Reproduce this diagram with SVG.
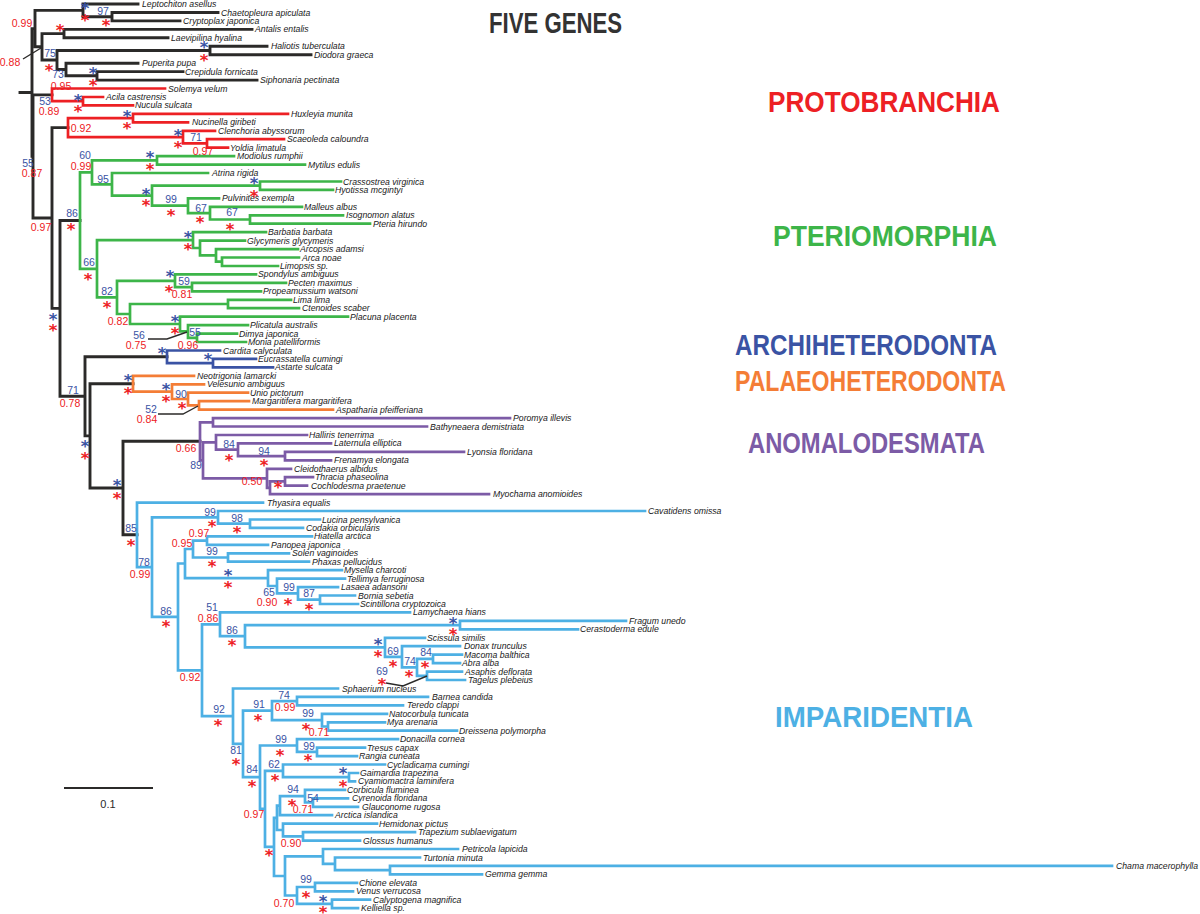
<svg xmlns="http://www.w3.org/2000/svg" xmlns:xlink="http://www.w3.org/1999/xlink" width="1200" height="914" viewBox="0 0 1200 914">
<style>
.br{fill:none;stroke-width:2.7;stroke-linecap:square;stroke-linejoin:miter}
.k{stroke:#2b2a29;stroke-width:2.9}
.r{stroke:#ED2024}
.g{stroke:#3DB549}
.b{stroke:#3A53A4}
.o{stroke:#F47D36}
.p{stroke:#7C5BA6}
.c{stroke:#4DB0E4}
.ptr{fill:none;stroke:#2b2a29;stroke-width:1.4}
.tip text{font-family:"Liberation Sans",Arial,sans-serif;font-style:italic;font-size:8.7px;fill:#1a1a1a}
.nb{font-family:"Liberation Sans",Arial,sans-serif;font-size:10.5px;fill:#3A53A4;text-anchor:middle}
.nr{font-family:"Liberation Sans",Arial,sans-serif;font-size:10.5px;fill:#ED2024;text-anchor:middle}
.ab{fill:#3A53A4}
.ar{fill:#ED2024}
.ttl{font-family:"Liberation Sans",Arial,sans-serif;font-weight:bold;font-size:29px}
</style>
<defs>
<text id="as" x="0" y="9.2" text-anchor="middle" font-family="DejaVu Sans,sans-serif" font-weight="bold" font-size="16.5">*</text>
</defs>
<rect width="1200" height="914" fill="#fff"/>

<g id="titles">
<text class="ttl" x="489" y="33" textLength="133" lengthAdjust="spacingAndGlyphs" fill="#333">FIVE GENES</text>
<text class="ttl" x="768" y="112" textLength="232" lengthAdjust="spacingAndGlyphs" fill="#ED2024">PROTOBRANCHIA</text>
<text class="ttl" x="773" y="246" textLength="224" lengthAdjust="spacingAndGlyphs" fill="#3DB549">PTERIOMORPHIA</text>
<text class="ttl" x="735" y="355" textLength="262" lengthAdjust="spacingAndGlyphs" fill="#3A53A4">ARCHIHETERODONTA</text>
<text class="ttl" x="735" y="391" textLength="271" lengthAdjust="spacingAndGlyphs" fill="#F47D36">PALAEOHETERODONTA</text>
<text class="ttl" x="748" y="453" textLength="237" lengthAdjust="spacingAndGlyphs" fill="#7C5BA6">ANOMALODESMATA</text>
<text class="ttl" x="775" y="727" textLength="198" lengthAdjust="spacingAndGlyphs" fill="#4DB0E4">IMPARIDENTIA</text>
</g>

<g id="connectors">
<path class="br k" d="M112,12.5V20.9M112,12.5H218M112,20.9H180M83,4V16.7M83,4H138M83,16.7H112M64,29.4V37.8M64,29.4H252M64,37.8H168M210,46.3V54.7M210,46.3H267M210,54.7H311M97,71.6V80.1M97,71.6H183M97,80.1H257M66,63.2V75.8M66,63.2H138M66,75.8H97M57,50.5V69.5M57,50.5H210M57,69.5H66M42,33.6V60M42,33.6H64M42,60H57M35,10.4V46.8M35,10.4H83M35,46.8H42M32,28.6V156.4M32,28.6H35M32,156.4H33M20,92.5H32M33,94.9V218M33,94.9H52M33,218H52M52,127.6V308.4M52,127.6H68M52,308.4H60M60,220.5V396.3M60,220.5H80M60,396.3H85M85,356.8V435.9M85,356.8H167M85,435.9H90M90,383.7V488M90,383.7H133M90,488H123M123,441.3V534.8M123,441.3H200M123,534.8H137"/>
<path class="br r" d="M52,88.5V101.2M52,88.5H165M52,101.2H83M83,97V105.4M83,97H103M83,105.4H133M68,118.1V137.1M68,118.1H133M68,137.1H183M133,113.9V122.3M133,113.9H288M133,122.3H188M183,130.8V143.4M183,130.8H215M183,143.4H207M207,139.2V147.7M207,139.2H284M207,147.7H228"/>
<path class="br g" d="M80,172.3V268.8M80,172.3H92M80,268.8H97M92,160.3V184.4M92,160.3H157M92,184.4H112M157,156.1V164.6M157,156.1H234M157,164.6H305M112,173V195.7M112,173H208M112,195.7H152M152,185.7V205.7M152,185.7H260M152,205.7H188M260,181.5V189.9M260,181.5H341M260,189.9H333M188,198.4V213.1M188,198.4H219M188,213.1H210M210,206.8V219.5M210,206.8H302M210,219.5H250M250,215.3V223.7M250,215.3H343M250,223.7H370M97,240.1V297.4M97,240.1H193M97,297.4H117M193,232.2V248M193,232.2H266M193,248H200M200,240.6V255.4M200,240.6H245M200,255.4H216M216,249.1V261.7M216,249.1H298M216,261.7H222M222,257.5V266M222,257.5H299M222,266H278M117,280.8V314M117,280.8H175M117,314H130M175,274.4V287.1M175,274.4H256M175,287.1H192M192,282.9V291.3M192,282.9H286M192,291.3H261M130,304V324M130,304H228M130,324H180M228,299.8V308.2M228,299.8H291M228,308.2H299M180,316.7V331.4M180,316.7H348M180,331.4H188M188,325.1V337.8M188,325.1H248M188,337.8H197M197,333.6V342M197,333.6H237M197,342H246"/>
<path class="br b" d="M167,350.5V363.1M167,350.5H220M167,363.1H213M213,358.9V367.4M213,358.9H256M213,367.4H273"/>
<path class="br o" d="M133,375.8V391.6M133,375.8H194M133,391.6H172M172,384.3V399M172,384.3H204M172,399H188M188,392.7V405.4M188,392.7H248M188,405.4H199M199,401.2V409.6M199,401.2H249M199,409.6H333"/>
<path class="br p" d="M200,422.3V460.3M200,422.3H213M200,460.3H203M213,418.1V426.5M213,418.1H510M213,426.5H427M203,442.3V478.3M203,442.3H216M203,478.3H267M216,435V449.7M216,435H307M216,449.7H238M238,443.4V456.1M238,443.4H331M238,456.1H285M285,451.9V460.3M285,451.9H464M285,460.3H331M267,468.8V487.8M267,468.8H291M267,487.8H270M270,481.4V494.1M270,481.4H285M270,494.1H489M285,477.2V485.7M285,477.2H313M285,485.7H307"/>
<path class="br c" d="M137,502.6V567.1M137,502.6H263M137,567.1H152M152,517.3V616.9M152,517.3H218M152,616.9H178M218,511V523.7M218,511H645M218,523.7H250M250,519.5V527.9M250,519.5H320M250,527.9H303M178,563.5V670.3M178,563.5H185M178,670.3H202M185,549V578.1M185,549H193M185,578.1H268M193,540.6V557.5M193,540.6H207M193,557.5H228M207,536.4V544.8M207,536.4H312M207,544.8H268M228,553.3V561.7M228,553.3H289M228,561.7H309M268,570.2V586M268,570.2H342M268,586H277M277,578.6V593.4M277,578.6H345M277,593.4H298M298,587.1V599.7M298,587.1H338M298,599.7H320M320,595.5V604M320,595.5H355M320,604H358M202,624.3V716.2M202,624.3H220M202,716.2H233M220,612.4V636.2M220,612.4H410M220,636.2H245M245,625.1V647.3M245,625.1H460M245,647.3H385M460,620.9V629.3M460,620.9H626M460,629.3H578M385,637.8V656.8M385,637.8H425M385,656.8H402M402,646.2V667.3M402,646.2H460M402,667.3H417M417,658.9V675.8M417,658.9H433M417,675.8H427M433,654.7V663.1M433,654.7H462M433,663.1H460M427,671.6V680M427,671.6H462M427,680H465M233,688.5V743.9M233,688.5H338M233,743.9H243M243,710.6V777.2M243,710.6H272M243,777.2H260M272,701.1V720.1M272,701.1H297M272,720.1H322M297,696.9V705.4M297,696.9H428M297,705.4H403M322,713.8V726.5M322,713.8H387M322,726.5H328M328,722.3V730.7M328,722.3H385M328,730.7H457M260,745.5V808.9M260,745.5H297M260,808.9H265M297,739.2V751.8M297,739.2H398M297,751.8H317M317,747.6V756.1M317,747.6H365M317,756.1H357M265,770.9V846.9M265,770.9H283M265,846.9H274M283,764.5V777.2M283,764.5H385M283,777.2H349M349,773V781.4M349,773H358M349,781.4H355M274,817.9V876M274,817.9H277M274,876H285M277,805.7V830M277,805.7H280M277,830H283M280,796.2V815.2M280,796.2H305M280,815.2H332M305,789.9V802.5M305,789.9H345M305,802.5H313M313,798.3V806.8M313,798.3H348M313,806.8H358M283,823.7V836.3M283,823.7H377M283,836.3H303M303,832.1V840.6M303,832.1H415M303,840.6H360M285,856.4V895.5M285,856.4H323M285,895.5H297M323,849V863.8M323,849H458M323,863.8H335M335,857.5V870.1M335,857.5H420M335,870.1H390M390,865.9V874.4M390,865.9H1112M390,874.4H482M297,887V903.9M297,887H315M297,903.9H332M315,882.8V891.3M315,882.8H357M315,891.3H353M332,899.7V908.2M332,899.7H370M332,908.2H358"/>
<path class="ptr" d="M23,59L41,48M148,339H167L187,332M158,414H183L198,406M386,683L403,686L427,676"/>
<path d="M64,788H153" stroke="#2b2a29" stroke-width="2"/>
</g>

<g id="scale"><text x="108" y="808" text-anchor="middle" font-family="Liberation Sans,Arial,sans-serif" font-size="11" fill="#2b2a29">0.1</text></g>

<g class="tip" id="outgroups">
<text id="t1" x="142" y="7">Leptochiton asellus</text>
<text id="t2" x="221" y="15.5">Chaetopleura apiculata</text>
<text id="t3" x="183" y="23.9">Cryptoplax japonica</text>
<text id="t4" x="255" y="32.4">Antalis entalis</text>
<text id="t5" x="171" y="40.8">Laevipilina hyalina</text>
<text id="t6" x="271" y="49.3">Haliotis tuberculata</text>
<text id="t7" x="314" y="57.7">Diodora graeca</text>
<text id="t8" x="142" y="66.2">Puperita pupa</text>
<text id="t9" x="185" y="74.6">Crepidula fornicata</text>
<text id="t10" x="260" y="83.1">Siphonaria pectinata</text>
</g>
<g class="tip" id="protobranchia">
<text id="t11" x="168" y="91.5">Solemya velum</text>
<text id="t12" x="106" y="100">Acila castrensis</text>
<text id="t13" x="135" y="108.4">Nucula sulcata</text>
<text id="t14" x="291" y="116.9">Huxleyia munita</text>
<text id="t15" x="192" y="125.3">Nucinella giribeti</text>
<text id="t16" x="218" y="133.8">Clenchoria abyssorum</text>
<text id="t17" x="287" y="142.2">Scaeoleda caloundra</text>
<text id="t18" x="230" y="150.7">Yoldia limatula</text>
</g>
<g class="tip" id="pteriomorphia">
<text id="t19" x="237" y="159.1">Modiolus rumphii</text>
<text id="t20" x="308" y="167.6">Mytilus edulis</text>
<text id="t21" x="212" y="176">Atrina rigida</text>
<text id="t22" x="343" y="184.5">Crassostrea virginica</text>
<text id="t23" x="335" y="192.9">Hyotissa mcgintyi</text>
<text id="t24" x="222" y="201.4">Pulvinites exempla</text>
<text id="t25" x="304" y="209.8">Malleus albus</text>
<text id="t26" x="346" y="218.3">Isognomon alatus</text>
<text id="t27" x="373" y="226.7">Pteria hirundo</text>
<text id="t28" x="268" y="235.2">Barbatia barbata</text>
<text id="t29" x="247" y="243.6">Glycymeris glycymeris</text>
<text id="t30" x="300" y="252.1">Arcopsis adamsi</text>
<text id="t31" x="302" y="260.5">Arca noae</text>
<text id="t32" x="280" y="269">Limopsis sp.</text>
<text id="t33" x="258" y="277.4">Spondylus ambiguus</text>
<text id="t34" x="288" y="285.9">Pecten maximus</text>
<text id="t35" x="263" y="294.3">Propeamussium watsoni</text>
<text id="t36" x="293" y="302.8">Lima lima</text>
<text id="t37" x="302" y="311.2">Ctenoides scaber</text>
<text id="t38" x="350" y="319.7">Placuna placenta</text>
<text id="t39" x="250" y="328.1">Plicatula australis</text>
<text id="t40" x="239" y="336.6">Dimya japonica</text>
<text id="t41" x="248" y="345">Monia patelliformis</text>
</g>
<g class="tip" id="archiheterodonta">
<text id="t42" x="223" y="353.5">Cardita calyculata</text>
<text id="t43" x="258" y="361.9">Eucrassatella cumingi</text>
<text id="t44" x="275" y="370.4">Astarte sulcata</text>
</g>
<g class="tip" id="palaeoheterodonta">
<text id="t45" x="197" y="378.8">Neotrigonia lamarcki</text>
<text id="t46" x="207" y="387.3">Velesunio ambiguus</text>
<text id="t47" x="250" y="395.7">Unio pictorum</text>
<text id="t48" x="252" y="404.2">Margaritifera margaritifera</text>
<text id="t49" x="336" y="412.6">Aspatharia pfeifferiana</text>
</g>
<g class="tip" id="anomalodesmata">
<text id="t50" x="513" y="421.1">Poromya illevis</text>
<text id="t51" x="430" y="429.5">Bathyneaera demistriata</text>
<text id="t52" x="309" y="438">Halliris tenerrima</text>
<text id="t53" x="334" y="446.4">Laternula elliptica</text>
<text id="t54" x="467" y="454.9">Lyonsia floridana</text>
<text id="t55" x="334" y="463.3">Frenamya elongata</text>
<text id="t56" x="294" y="471.8">Cleidothaerus albidus</text>
<text id="t57" x="315" y="480.2">Thracia phaseolina</text>
<text id="t58" x="311" y="488.7">Cochlodesma praetenue</text>
<text id="t59" x="493" y="497.1">Myochama anomioides</text>
</g>
<g class="tip" id="imparidentia">
<text id="t60" x="267" y="505.6">Thyasira equalis</text>
<text id="t61" x="648" y="514">Cavatidens omissa</text>
<text id="t62" x="322" y="522.5">Lucina pensylvanica</text>
<text id="t63" x="306" y="530.9">Codakia orbicularis</text>
<text id="t64" x="314" y="539.4">Hiatella arctica</text>
<text id="t65" x="271" y="547.8">Panopea japonica</text>
<text id="t66" x="292" y="556.3">Solen vaginoides</text>
<text id="t67" x="312" y="564.7">Phaxas pellucidus</text>
<text id="t68" x="344" y="573.2">Mysella charcoti</text>
<text id="t69" x="347" y="581.6">Tellimya ferruginosa</text>
<text id="t70" x="341" y="590.1">Lasaea adansoni</text>
<text id="t71" x="358" y="598.5">Bornia sebetia</text>
<text id="t72" x="360" y="607">Scintillona cryptozoica</text>
<text id="t73" x="413" y="615.4">Lamychaena hians</text>
<text id="t74" x="629" y="623.9">Fragum unedo</text>
<text id="t75" x="580" y="632.3">Cerastoderma edule</text>
<text id="t76" x="427" y="640.8">Scissula similis</text>
<text id="t77" x="464" y="649.2">Donax trunculus</text>
<text id="t78" x="464" y="657.7">Macoma balthica</text>
<text id="t79" x="462" y="666.1">Abra alba</text>
<text id="t80" x="465" y="674.6">Asaphis deflorata</text>
<text id="t81" x="468" y="683">Tagelus plebeius</text>
<text id="t82" x="342" y="691.5">Sphaerium nucleus</text>
<text id="t83" x="432" y="699.9">Barnea candida</text>
<text id="t84" x="407" y="708.4">Teredo clappi</text>
<text id="t85" x="389" y="716.8">Natocorbula tunicata</text>
<text id="t86" x="387" y="725.3">Mya arenaria</text>
<text id="t87" x="459" y="733.7">Dreissena polymorpha</text>
<text id="t88" x="400" y="742.2">Donacilla cornea</text>
<text id="t89" x="367" y="750.6">Tresus capax</text>
<text id="t90" x="359" y="759.1">Rangia cuneata</text>
<text id="t91" x="387" y="767.5">Cycladicama cumingi</text>
<text id="t92" x="360" y="776">Gaimardia trapezina</text>
<text id="t93" x="358" y="784.4">Cyamiomactra laminifera</text>
<text id="t94" x="347" y="792.9">Corbicula fluminea</text>
<text id="t95" x="352" y="801.3">Cyrenoida floridana</text>
<text id="t96" x="362" y="809.8">Glauconome rugosa</text>
<text id="t97" x="335" y="818.2">Arctica islandica</text>
<text id="t98" x="379" y="826.7">Hemidonax pictus</text>
<text id="t99" x="418" y="835.1">Trapezium sublaevigatum</text>
<text id="t100" x="363" y="843.6">Glossus humanus</text>
<text id="t101" x="462" y="852">Petricola lapicida</text>
<text id="t102" x="423" y="860.5">Turtonia minuta</text>
<text id="t103" x="1116" y="868.9">Chama macerophylla</text>
<text id="t104" x="485" y="877.4">Gemma gemma</text>
<text id="t105" x="359" y="885.8">Chione elevata</text>
<text id="t106" x="356" y="894.3">Venus verrucosa</text>
<text id="t107" x="373" y="902.7">Calyptogena magnifica</text>
<text id="t108" x="361" y="911.2">Kelliella sp.</text>
</g>

<g id="support-bootstrap">
<text class="nb" x="103" y="15">97</text><text class="nb" x="50" y="57">75</text><text class="nb" x="58" y="77.5">73</text><text class="nb" x="45" y="105">53</text><text class="nb" x="196" y="141">71</text><text class="nb" x="28" y="167">55</text><text class="nb" x="85" y="159">60</text><text class="nb" x="103" y="183">95</text><text class="nb" x="171" y="203">99</text><text class="nb" x="201" y="212">67</text><text class="nb" x="232" y="216">67</text><text class="nb" x="72" y="217">86</text><text class="nb" x="89" y="266">66</text><text class="nb" x="107" y="295">82</text><text class="nb" x="184" y="285">59</text><text class="nb" x="195" y="336">55</text><text class="nb" x="139" y="339">56</text><text class="nb" x="73" y="394">71</text><text class="nb" x="181" y="398">90</text><text class="nb" x="151" y="413">52</text><text class="nb" x="229" y="448">84</text><text class="nb" x="264" y="455">94</text><text class="nb" x="196" y="469">89</text><text class="nb" x="131" y="532">85</text><text class="nb" x="210" y="516">99</text><text class="nb" x="237" y="522">98</text><text class="nb" x="144" y="566">78</text><text class="nb" x="212" y="555">99</text><text class="nb" x="269" y="596">65</text><text class="nb" x="289" y="591">99</text><text class="nb" x="309" y="597">87</text><text class="nb" x="212" y="611">51</text><text class="nb" x="166" y="615">86</text><text class="nb" x="232" y="634">86</text><text class="nb" x="393" y="655">69</text><text class="nb" x="426" y="656">84</text><text class="nb" x="410" y="665">74</text><text class="nb" x="382" y="675">69</text><text class="nb" x="284" y="699">74</text><text class="nb" x="259" y="708">91</text><text class="nb" x="219" y="713">92</text><text class="nb" x="308" y="717">99</text><text class="nb" x="281" y="743">99</text><text class="nb" x="309" y="750">99</text><text class="nb" x="236" y="754">81</text><text class="nb" x="274" y="768">62</text><text class="nb" x="252" y="773">84</text><text class="nb" x="293" y="793">94</text><text class="nb" x="313" y="802">54</text><text class="nb" x="306" y="883">99</text>
</g>
<g id="support-posterior">
<text class="nr" x="22" y="27">0.99</text><text class="nr" x="10" y="66">0.88</text><text class="nr" x="61" y="89.5">0.95</text><text class="nr" x="49" y="115">0.89</text><text class="nr" x="81" y="132">0.92</text><text class="nr" x="203" y="155">0.97</text><text class="nr" x="32" y="177">0.87</text><text class="nr" x="81" y="170">0.99</text><text class="nr" x="41" y="231">0.97</text><text class="nr" x="182" y="298">0.81</text><text class="nr" x="118" y="325">0.82</text><text class="nr" x="136" y="349">0.75</text><text class="nr" x="188" y="349">0.96</text><text class="nr" x="70" y="407">0.78</text><text class="nr" x="147" y="423">0.84</text><text class="nr" x="186" y="452">0.66</text><text class="nr" x="252" y="485">0.50</text><text class="nr" x="199" y="537">0.97</text><text class="nr" x="182" y="547">0.95</text><text class="nr" x="140" y="578">0.99</text><text class="nr" x="267" y="606">0.90</text><text class="nr" x="208" y="622">0.86</text><text class="nr" x="190" y="681">0.92</text><text class="nr" x="285" y="711">0.99</text><text class="nr" x="319" y="736">0.71</text><text class="nr" x="303" y="813">0.71</text><text class="nr" x="254" y="818">0.97</text><text class="nr" x="291" y="847">0.90</text><text class="nr" x="284" y="907">0.70</text>
</g>
<g id="asterisks-blue" class="ab">
<use xlink:href="#as" x="85" y="5"/><use xlink:href="#as" x="204" y="44"/><use xlink:href="#as" x="93" y="70"/><use xlink:href="#as" x="78" y="97"/><use xlink:href="#as" x="127" y="113"/><use xlink:href="#as" x="178" y="132"/><use xlink:href="#as" x="150" y="154"/><use xlink:href="#as" x="254" y="180"/><use xlink:href="#as" x="146" y="191"/><use xlink:href="#as" x="188" y="234"/><use xlink:href="#as" x="170" y="273"/><use xlink:href="#as" x="175" y="318"/><use xlink:href="#as" x="162" y="350"/><use xlink:href="#as" x="208" y="356"/><use xlink:href="#as" x="128" y="377"/><use xlink:href="#as" x="166" y="386"/><use xlink:href="#as" x="53" y="316"/><use xlink:href="#as" x="85" y="443"/><use xlink:href="#as" x="117" y="482"/><use xlink:href="#as" x="228" y="572"/><use xlink:href="#as" x="453" y="620"/><use xlink:href="#as" x="378" y="641"/><use xlink:href="#as" x="343" y="770"/><use xlink:href="#as" x="323" y="898"/>
</g>
<g id="asterisks-red" class="ar">
<use xlink:href="#as" x="85" y="17"/><use xlink:href="#as" x="106" y="22"/><use xlink:href="#as" x="60" y="27"/><use xlink:href="#as" x="204" y="57"/><use xlink:href="#as" x="49" y="67"/><use xlink:href="#as" x="93" y="82"/><use xlink:href="#as" x="78" y="108"/><use xlink:href="#as" x="127" y="125"/><use xlink:href="#as" x="178" y="144"/><use xlink:href="#as" x="150" y="166"/><use xlink:href="#as" x="254" y="193"/><use xlink:href="#as" x="146" y="202"/><use xlink:href="#as" x="171" y="212"/><use xlink:href="#as" x="200" y="219"/><use xlink:href="#as" x="230" y="226"/><use xlink:href="#as" x="71" y="226"/><use xlink:href="#as" x="188" y="246"/><use xlink:href="#as" x="88" y="276"/><use xlink:href="#as" x="107" y="304"/><use xlink:href="#as" x="169" y="288"/><use xlink:href="#as" x="175" y="330"/><use xlink:href="#as" x="128" y="390"/><use xlink:href="#as" x="166" y="398"/><use xlink:href="#as" x="182" y="405"/><use xlink:href="#as" x="53" y="327"/><use xlink:href="#as" x="85" y="455"/><use xlink:href="#as" x="117" y="495"/><use xlink:href="#as" x="229" y="457"/><use xlink:href="#as" x="264" y="462"/><use xlink:href="#as" x="278" y="484"/><use xlink:href="#as" x="131" y="542"/><use xlink:href="#as" x="212" y="523"/><use xlink:href="#as" x="237" y="529"/><use xlink:href="#as" x="212" y="563"/><use xlink:href="#as" x="228" y="584"/><use xlink:href="#as" x="288" y="601"/><use xlink:href="#as" x="309" y="606"/><use xlink:href="#as" x="166" y="623"/><use xlink:href="#as" x="232" y="642"/><use xlink:href="#as" x="453" y="631"/><use xlink:href="#as" x="378" y="653"/><use xlink:href="#as" x="393" y="663"/><use xlink:href="#as" x="425" y="664"/><use xlink:href="#as" x="409" y="673"/><use xlink:href="#as" x="382" y="681"/><use xlink:href="#as" x="218" y="722"/><use xlink:href="#as" x="258" y="717"/><use xlink:href="#as" x="306" y="726"/><use xlink:href="#as" x="236" y="761"/><use xlink:href="#as" x="280" y="752"/><use xlink:href="#as" x="308" y="757"/><use xlink:href="#as" x="252" y="783"/><use xlink:href="#as" x="275" y="777"/><use xlink:href="#as" x="343" y="783"/><use xlink:href="#as" x="292" y="802"/><use xlink:href="#as" x="269" y="852"/><use xlink:href="#as" x="306" y="894"/><use xlink:href="#as" x="323" y="909"/>
</g>
</svg>
